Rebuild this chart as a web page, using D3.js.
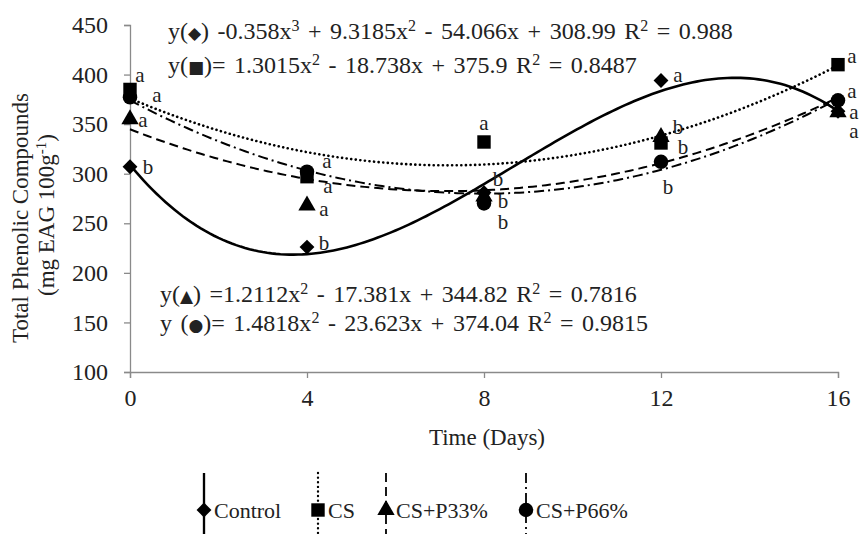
<!DOCTYPE html>
<html>
<head>
<meta charset="utf-8">
<script src="https://cdn.jsdelivr.net/npm/d3@7"></script>
<style>
  body { margin: 0; background: #fff; }
  text { font-family: "Liberation Serif", "Times New Roman", serif; fill: #222; }
</style>
</head>
<body>
<div id="chart"></div>
<script>
// Data
var days = [0, 4, 8, 12, 16];
var control = [307, 226, 281, 394, 363];
var cs = [385, 297, 332, 331, 410];
var csP33 = [355, 268, 277, 337, 362];
var csP66 = [377, 302, 270, 312, 374];

// significance letters
var controlLetters = ["b", "b", "b", "a", "a"];
var csLetters = ["a", "a", "a", "b", "a"];
var p33Letters = ["a", "a", "b", "b", "a"];
var p66Letters = ["a", "a", "b", "b", "a"];

// trend line coefficients (highest power first), as printed
var controlCoef = [-0.358, 9.3185, -54.066, 308.99];
var csCoef = [1.3015, -18.738, 375.9];
var p33Coef = [1.2112, -17.381, 344.82];
var p66Coef = [1.4818, -23.623, 374.04];

var yTicks = [100, 150, 200, 250, 300, 350, 400, 450];
var xTicks = [0, 4, 8, 12, 16];

var svgWidth = 862;
var svgHeight = 534;
var fs = 23;

var svg = d3.select("#chart").append("svg")
  .attr("width", svgWidth)
  .attr("height", svgHeight);

svg.append("rect").attr("width", svgWidth).attr("height", svgHeight).attr("fill", "#fff");

var xScale = d3.scaleLinear().domain([0, 16]).range([130, 838]);
var yScale = d3.scaleLinear().domain([100, 450]).range([372, 25]);

// axes
svg.append("g")
  .attr("transform", "translate(130,0)")
  .call(d3.axisLeft(yScale).tickValues(yTicks).tickSize(6).tickPadding(16));
svg.append("g")
  .attr("transform", "translate(0,372)")
  .call(d3.axisBottom(xScale).tickValues(xTicks).tickSize(6).tickPadding(11));

svg.selectAll(".domain, .tick line").attr("stroke", "#8a8a8a").attr("stroke-width", 1.3);
svg.selectAll(".tick text")
  .attr("font-family", "Liberation Serif")
  .attr("font-size", 24)
  .attr("fill", "#222");

// axis titles
svg.append("text")
  .attr("transform", "translate(28,218) rotate(-90)")
  .attr("text-anchor", "middle")
  .attr("font-size", fs)
  .text("Total Phenolic Compounds");
var yt2 = svg.append("text")
  .attr("transform", "translate(54,215) rotate(-90)")
  .attr("text-anchor", "middle")
  .attr("font-size", fs)
  .text("(mg EAG 100g");
yt2.append("tspan").attr("dy", -8).attr("font-size", 15).text("-1");
yt2.append("tspan").attr("dy", 8).text(")");

svg.append("text")
  .attr("x", 487)
  .attr("y", 445)
  .attr("text-anchor", "middle")
  .attr("font-size", fs)
  .text("Time (Days)");

// series definitions
var diamond = {
  draw: function(ctx, size) {
    var r = Math.sqrt(size / 2);
    ctx.moveTo(0, -r); ctx.lineTo(r, 0); ctx.lineTo(0, r); ctx.lineTo(-r, 0); ctx.closePath();
  }
};
var series = [
  { name: "Control", values: control, letters: controlLetters, coef: controlCoef,
    symbol: diamond, size: 110, dash: null, width: 2.6, cap: "butt" },
  { name: "CS", values: cs, letters: csLetters, coef: csCoef,
    symbol: d3.symbolSquare, size: 180, dash: "0.1,4.5", width: 2.6, cap: "round" },
  { name: "CS+P33%", values: csP33, letters: p33Letters, coef: p33Coef,
    symbol: d3.symbolTriangle, size: 130, dash: "9,5", width: 2, cap: "butt" },
  { name: "CS+P66%", values: csP66, letters: p66Letters, coef: p66Coef,
    symbol: d3.symbolCircle, size: 165, dash: "10,4,2,4", width: 2, cap: "butt" }
];

function poly(coef, x) {
  return coef.reduce(function(acc, c) { return acc * x + c; }, 0);
}

var line = d3.line()
  .x(d => xScale(d[0]))
  .y(d => yScale(d[1]));

// trend lines
series.forEach(function(s) {
  var pts = d3.range(0, 16.001, 0.1).map(x => [x, poly(s.coef, x)]);
  svg.append("path")
    .attr("d", line(pts))
    .attr("fill", "none")
    .attr("stroke", "#000")
    .attr("stroke-width", s.width)
    .attr("stroke-linecap", s.cap)
    .attr("stroke-dasharray", s.dash);
});

// markers
series.forEach(function(s) {
  svg.selectAll(null)
    .data(s.values)
    .enter()
    .append("path")
    .attr("d", d3.symbol().type(s.symbol).size(s.size))
    .attr("transform", (d, i) => `translate(${xScale(days[i])},${yScale(d)})`)
    .attr("fill", "#000");
});

// letter offsets [dx, dy] per series / point
var letterOffsets = {
  "Control": [[18, 0], [17, -4], [14, -14], [17, -6], [16, 1]],
  "CS": [[10, -14], [21, 9], [0, -19], [22, 4], [14, -9]],
  "CS+P33%": [[13, 1], [17, 4], [19, 4], [17, -10], [16, 19]],
  "CS+P66%": [[27, -2], [20, -11], [19, 19], [7, 25], [14, -9]]
};
series.forEach(function(s) {
  svg.selectAll(null)
    .data(s.values)
    .enter()
    .append("text")
    .attr("x", (d, i) => xScale(days[i]) + letterOffsets[s.name][i][0])
    .attr("y", (d, i) => yScale(d) + letterOffsets[s.name][i][1])
    .attr("text-anchor", "middle")
    .attr("dominant-baseline", "central")
    .attr("font-size", 21)
    .text((d, i) => s.letters[i]);
});

// equations
function equation(x, y, parts) {
  var t = svg.append("text").attr("x", x).attr("y", y)
    .attr("font-size", 24)
    .attr("word-spacing", 2.5);
  parts.forEach(function(p) {
    var ts = t.append("tspan").text(p[0]);
    if (p[1] === "sup") ts.attr("font-size", 16).attr("dy", -8);
    if (p[1] === "down") ts.attr("dy", 8);
    if (p[1] === "sym") ts.attr("font-family", "DejaVu Sans").attr("font-size", 17);
  });
  return t;
}

equation(168, 39, [["y("], ["\u25C6", "sym"], [") -0.358x"], ["3", "sup"], [" + 9.3185x", "down"],
  ["2", "sup"], [" - 54.066x + 308.99  R", "down"], ["2", "sup"], [" = 0.988", "down"]]);
equation(168, 73, [["y("], ["\u25A0", "sym"], [")= 1.3015x"], ["2", "sup"], [" - 18.738x + 375.9  R", "down"],
  ["2", "sup"], [" = 0.8487", "down"]]);
equation(160, 302, [["y("], ["\u25B2", "sym"], [") =1.2112x"], ["2", "sup"], [" - 17.381x + 344.82  R", "down"],
  ["2", "sup"], [" = 0.7816", "down"]]);
equation(160, 331, [["y ("], ["\u25CF", "sym"], [")= 1.4818x"], ["2", "sup"], [" - 23.623x + 374.04  R", "down"],
  ["2", "sup"], [" = 0.9815", "down"]]);

// legend
var legendX = [204, 318, 386, 526];
var legendY = 510;
series.forEach(function(s, i) {
  var lx = legendX[i];
  svg.append("line")
    .attr("x1", lx).attr("x2", lx)
    .attr("y1", 473).attr("y2", 534)
    .attr("stroke", "#000")
    .attr("stroke-width", s.width * 0.9)
    .attr("stroke-linecap", s.cap)
    .attr("stroke-dasharray", s.dash);
  svg.append("path")
    .attr("d", d3.symbol().type(s.symbol).size(s.size))
    .attr("transform", `translate(${lx},${legendY})`)
    .attr("fill", "#000");
  svg.append("text")
    .attr("x", lx + 10)
    .attr("y", legendY)
    .attr("dominant-baseline", "central")
    .attr("font-size", 22)
    .text(s.name);
});
</script>
</body>
</html>
